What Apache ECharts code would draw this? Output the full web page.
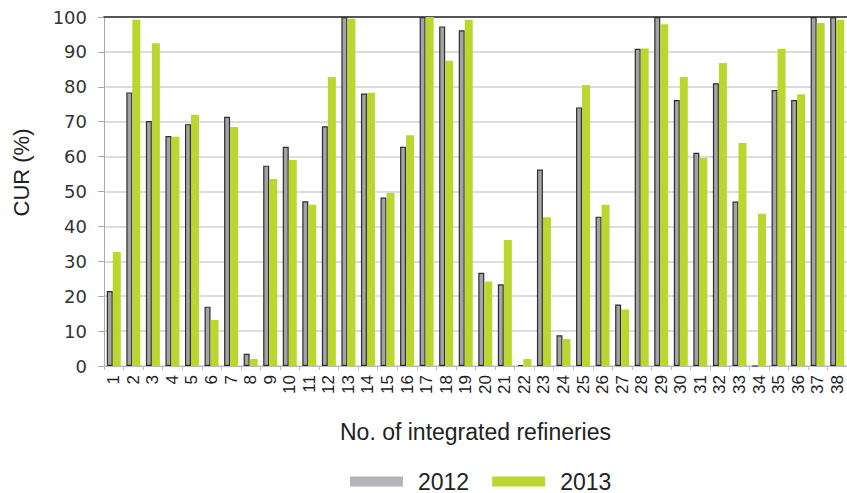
<!DOCTYPE html>
<html>
<head>
<meta charset="utf-8">
<script src="https://cdn.jsdelivr.net/npm/echarts@6/dist/echarts.min.js"></script>
<style>html,body{margin:0;padding:0;background:#fff;}#c{width:847px;height:493px;}</style>
</head>
<body>
<div id="c"></div>
<script>
var categories = ['1','2','3','4','5','6','7','8','9','10','11','12','13','14','15','16','17','18','19','20','21','22','23','24','25','26','27','28','29','30','31','32','33','34','35','36','37','38'];
var values2012 = [21.5,78.4,70.2,65.9,69.3,17,71.4,3.5,57.4,62.8,47.2,68.7,100,78.1,48.3,62.8,100,97.3,96.2,26.7,23.4,0.3,56.3,8.8,74.1,42.8,17.6,90.9,100,76.2,61.1,81,47.1,0,79.1,76.2,100,100];
var values2013 = [32.7,99.2,92.5,65.7,72,13.2,68.5,2,53.6,59,46.2,82.8,99.5,78.3,49.6,66.1,100,87.5,99.2,24.2,36.1,2,42.6,7.7,80.5,46.2,16.2,91,97.9,82.8,59.6,86.8,63.9,43.6,90.9,77.9,98.3,99.2];
var yTicks = [0,10,20,30,40,50,60,70,80,90,100];

var chart = echarts.init(document.getElementById('c'), null, {renderer: 'svg'});
chart.setOption({
  animation: false,
  backgroundColor: '#fff',
  grid: {left: 104, right: -1, top: 17, bottom: 127},
  legend: {
    top: 470,
    left: 350,
    padding: 0,
    icon: 'rect',
    itemWidth: 53,
    itemHeight: 10,
    itemGap: 23,
    textStyle: {fontFamily: 'Liberation Sans, Arial', fontSize: 23, lineHeight: 22, color: '#222', padding: [0,0,0,10]},
    data: [
      {name: '2012', itemStyle: {color: '#b5b5b9', borderWidth: 0}},
      {name: '2013', itemStyle: {color: '#bcd630', borderWidth: 0}}
    ]
  },
  xAxis: [{
    type: 'category',
    data: categories,
    name: 'No. of integrated refineries',
    nameLocation: 'middle',
    nameGap: 54,
    nameTextStyle: {fontFamily: 'Liberation Sans, Arial', fontSize: 23, color: '#222'},
    axisLine: {lineStyle: {color: '#bbb', width: 1}},
    axisTick: {show: true, length: 4, lineStyle: {color: '#bbb'}},
    axisLabel: {rotate: 90, fontFamily: 'Liberation Sans, Arial', fontSize: 17, color: '#222', margin: 9, interval: 0}
  }, {
    type: 'category',
    data: categories,
    position: 'top',
    axisLine: {lineStyle: {color: '#555', width: 2}},
    axisTick: {show: false},
    axisLabel: {show: false}
  }],
  yAxis: {
    type: 'value',
    min: 0,
    max: 100,
    interval: 10,
    name: 'CUR (%)',
    nameLocation: 'middle',
    nameGap: 72,
    nameTextStyle: {fontFamily: 'Liberation Sans, Arial', fontSize: 22, color: '#222', padding: [0,0,0,38]},
    axisLine: {show: true, lineStyle: {color: '#aaa', width: 1}},
    axisTick: {show: true, length: 6, lineStyle: {color: '#aaa'}},
    axisLabel: {fontFamily: 'DejaVu Sans', fontSize: 18, color: '#333', margin: 17,
      formatter: function (v) { return yTicks.indexOf(v) >= 0 ? String(v) : ''; }},
    splitLine: {show: true, lineStyle: {color: '#d2d2d2', width: 1.5}}
  },
  series: [{
    name: '2012',
    type: 'bar',
    data: values2012,
    barWidth: 6,
    barGap: '0%',
    itemStyle: {color: '#a3a3a6', borderColor: '#2e2e2e', borderWidth: 1.2}
  }, {
    name: '2013',
    type: 'bar',
    data: values2013,
    barWidth: 8,
    barGap: '0%',
    itemStyle: {color: '#bcd630'}
  }]
});
</script>
</body>
</html>
